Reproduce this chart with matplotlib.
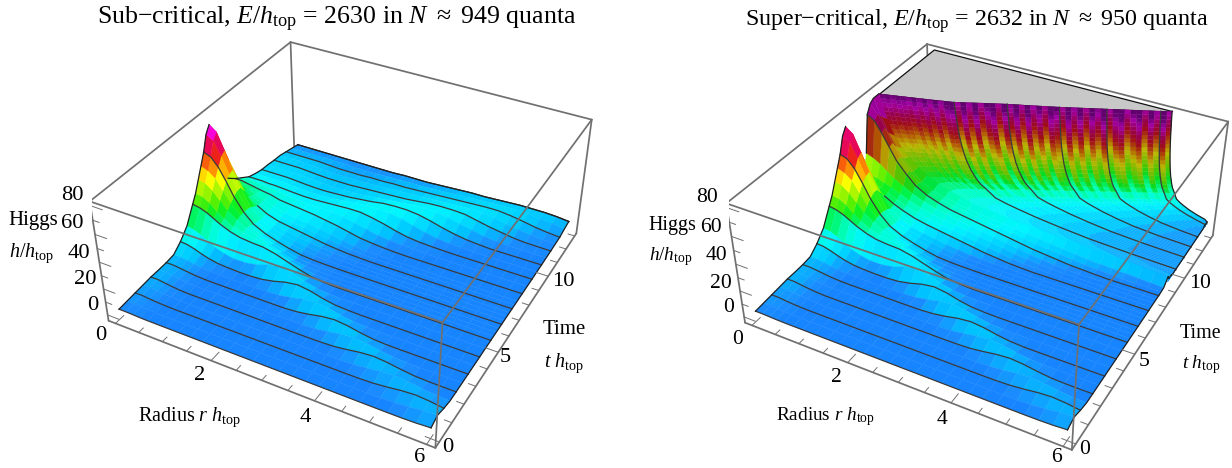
#!/usr/bin/env python3
"""Two Higgs collapse surfaces h(r, t): sub-critical and super-critical."""
import numpy as np
import matplotlib
matplotlib.use("Agg")
import matplotlib.pyplot as plt
from matplotlib.colors import LinearSegmentedColormap
from mpl_toolkits.mplot3d.art3d import Poly3DCollection

plt.rcParams["font.family"] = ["Liberation Serif", "DejaVu Serif"]
plt.rcParams["mathtext.fontset"] = "custom"
plt.rcParams["mathtext.rm"] = "Liberation Serif"
plt.rcParams["mathtext.it"] = "Liberation Serif:italic"
plt.rcParams["mathtext.bf"] = "Liberation Serif:bold"

# heights, rows = time, columns = radius
RADIUS = [0, .15, .3, .45, .6, .8, 1, 1.25, 1.5, 1.75, 2, 2.25, 2.5, 2.75, 3, 3.25, 3.5, 3.75,
          4, 4.25, 4.5, 4.75, 5, 5.25, 5.5, 5.75, 6]
TIME_EARLY = [0, .5, 1, 1.5, 2, 2.5, 3, 3.5, 4, 4.5, 5, 5.25, 5.5, 5.75, 6, 6.25, 6.5, 6.75]
H_EARLY = [
    [3, 3, 2.8, 2.6, 2.5, 2.5, 2.5] + [2.5] * 16 + [2.5, 2.6, 2.9, 3.6],
    [3.5, 3.5, 3, 2.8, 2.6, 2.5, 2.5] + [2.5] * 15 + [2.6, 3, 4, 5.3, 6],
    [4, 4, 3.4, 3, 2.7, 2.5, 2.5] + [2.5] * 13 + [2.6, 3, 4, 5.3, 6, 5.3, 4],
    [4.5, 4.5, 3.8, 3.2, 2.8, 2.5, 2.5] + [2.5] * 11 + [2.6, 3, 4, 5.3, 6, 5.3, 4, 3, 2.6],
    [5, 5, 4.2, 3.5, 2.9, 2.5, 2.5] + [2.5] * 9 + [2.6, 3, 4.2, 5.7, 6.5, 5.7, 4.2, 3, 2.6] + [2.5] * 2,
    [5, 5, 4.4, 3.7, 3, 2.6, 2.5] + [2.5] * 7 + [2.6, 3.1, 4.4, 6.1, 7, 6.1, 4.4, 3.1, 2.6] + [2.5] * 4,
    [5.2, 5.2, 4.6, 3.9, 3.2, 2.7, 2.5] + [2.5] * 5 + [2.6, 3.2, 4.6, 6.5, 7.5, 6.5, 4.6, 3.2, 2.6] + [2.5] * 6,
    [6, 6, 5.2, 4.2, 3.4, 2.8, 2.5] + [2.5] * 3 + [2.7, 3.3, 4.8, 6.9, 8, 6.9, 4.8, 3.3, 2.7] + [2.5] * 8,
    [11, 10.5, 9, 7, 5.3, 3.8, 3.2, 2.8, 2.8, 3.4, 5.2, 7.7, 9, 7.7, 5.2, 3.4, 2.8] + [2.5] * 10,
    [18, 17, 14.5, 11.5, 8.5, 6, 4.5, 4.5, 6, 9.3, 11, 9.3, 6, 3.7, 2.8] + [2.5] * 12,
    [30, 29, 27, 24, 21, 18, 16, 15, 14.5, 12.5, 9.5, 6.5, 4, 3] + [2.5] * 13,
    [36, 35, 32, 27, 23, 19, 17, 15.5, 13.5, 10.5, 7, 4.5, 3.2, 2.7] + [2.5] * 13,
    [44, 43, 39, 33, 27, 22, 18, 14.5, 11, 8, 5, 3.5, 2.8, 2.6] + [2.5] * 13,
    [52, 50, 46, 38, 30, 23, 17, 12.5, 9, 6.5, 4.2, 3.2, 2.7, 2.6] + [2.5] * 13,
    [60, 58, 52, 43, 33, 23, 16, 11.5, 8.5, 6, 4, 3.2, 2.8, 2.6] + [2.5] * 13,
    [71, 68, 58, 46, 35, 23, 15, 10.5, 8, 6, 4.5, 3.5, 3, 2.7] + [2.5] * 13,
    [76, 72, 60, 47, 35, 22, 14.5, 10.5, 8.2, 6.5, 5, 4, 3.2, 2.8] + [2.5] * 13,
    [62, 59, 50, 40, 30, 20, 14, 10.5, 8.5, 7, 5.5, 4.5, 3.5, 3] + [2.5] * 13,
]
TIME_SUB = [7, 7.25, 7.5, 8, 8.5, 9, 9.5, 10, 10.5, 11, 11.5, 12, 12.5, 13]
H_SUB = [
    [38, 36, 32, 27, 23, 18, 14, 11, 9.5, 8, 6.5, 5, 4, 3.2, 2.8] + [2.5] * 12,
    [30, 29, 27, 24, 21, 18, 14.5, 11.5, 10, 9, 7.5, 6, 4.5, 3.5, 3] + [2.5] * 12,
    [26, 25, 24, 22, 20, 17.5, 15, 12.5, 11, 10, 8.5, 7, 5.5, 4, 3.2, 2.7] + [2.5] * 11,
    [21, 21, 20, 19, 18, 17, 15, 14, 13, 12, 10.5, 9, 7, 5, 4, 3.2, 2.7] + [2.5] * 10,
    [17, 17, 16.5, 16, 15.5, 15, 14, 13, 12.5, 12, 12, 11, 9, 7, 5, 4, 3.3, 3, 2.7] + [2.5] * 8,
    [13, 13, 13, 12.5, 12.5, 12, 11.5, 11, 11, 11.5, 12, 12.5, 12.5, 11, 9, 6.5, 4.5, 3.5, 3, 2.7] + [2.5] * 7,
    [11, 11, 11, 11, 11, 10.5, 10, 9.5, 9.5, 10, 11, 12, 13, 13, 12.5, 11, 8.5, 6, 4.2, 3.2, 3] + [2.6] * 6,
    [9.5, 9.5, 9.5, 9.5, 9.5, 9, 8.5, 8, 8, 8.5, 9, 10, 11, 12.5, 13, 13, 12, 10, 7.5, 5.5, 4, 3.2] + [2.6] * 5,
    [9, 9, 9, 9, 8.5, 8.5, 8, 7.5, 7, 7, 7.5, 8, 9, 10, 11, 12, 12.5, 12, 10.5, 8.5, 6.5, 4.5, 3.5, 3] + [2.7] * 3,
    [8, 8, 8, 8, 8, 7.5, 7, 6.5, 6.5, 6.5, 7, 7.5, 8, 8.5, 9, 10, 11, 11.5, 11.5, 11, 9, 7, 5.5, 4, 3.2, 3, 2.8],
    [7.5, 7.5, 7.5, 7.5, 7, 7, 6.5, 6, 6, 6, 6, 6.5, 7, 7.5, 8, 8.5, 9, 9.5, 10, 10.5, 10, 9, 7, 5.5, 4.2, 3.4, 3],
    [6, 6, 6, 6, 6, 6, 5.5, 5, 5, 5, 5.5, 5.5, 6, 6, 6.5, 7, 7.5, 8, 8.5, 9, 9.5, 9.5, 8.5, 7, 5.2, 4, 3.2],
    [4.5] * 8 + [4, 4, 4, 4.5, 4.5, 5, 5, 5.5, 6, 6.5, 7, 7.5, 8, 8.5, 8.5, 8, 7, 6, 4.5],
    [3] * 12 + [3.5, 3.5, 3.5, 4, 4.5, 5, 5.5, 5.5, 6, 6.5, 7, 7, 7, 6.5, 5.5],
]
TIME_SUPER = [7, 7.25, 7.5, 7.75, 8, 8.25, 8.5, 8.9]
H_SUPER = [
    [38, 36, 33, 29, 25, 21, 18, 15, 13, 11.5, 10, 8.5, 7, 5.5, 4.5, 3.5, 3] + [2.6] * 10,
    [30, 30, 29, 27, 25, 22, 19, 16.5, 14.5, 13, 11.5, 10, 8.5, 7, 5.5, 4.5, 3.5, 3] + [2.6] * 9,
    [32, 32, 31, 29, 27, 24, 21, 18, 16, 14.5, 13, 11.5, 10, 8.5, 7, 5.5, 4.5, 3.5, 3] + [2.6] * 8,
    [45, 43, 40, 36, 32, 28, 24, 20.5, 18, 16, 14.5, 13, 11.5, 10, 8.5, 7, 5.5, 4.5, 3.5, 3] + [2.6] * 7,
    [72, 69, 61, 52, 43, 35, 28, 23, 20, 17.5, 16, 14.5, 13, 11.5, 10, 8.5, 7, 6, 5, 4, 3.5, 3] + [2.6] * 5,
    [78, 72, 63, 53, 44, 35, 28, 23, 20, 18, 16.5, 15, 13.5, 12.5, 11, 10, 8.5, 7.5, 6.5, 5.5, 4.5, 4, 3.5, 3] + [2.7] * 3,
    [80, 68, 57, 48, 41, 32, 26, 22, 19.5, 17.5, 16, 15, 14, 13, 12, 11, 10, 9, 8, 7, 6, 5.5, 5, 4.5, 4, 3.5, 3],
    [80, 63, 51.5, 43.5, 37.5, 32, 27.5, 23.5, 21, 18.5, 16, 15.2, 14.3, 13.3, 12.9, 12.3, 11.7, 11.1, 10.5, 10.1, 9.7, 9.2, 8.7, 8.4, 8.1, 7.7, 7.3],
]

# super-critical wall: where the clipped plateau ends, and the fall-off in front of it
WALL_R = [0, .1, .2, .3, .4, .5, .6, .7, .8, .9, 1, 1.1, 1.2, 1.3, 1.4, 1.5, 1.6, 1.7, 1.8, 1.9,
          2, 2.1, 2.2, 2.3, 2.4, 2.5, 2.6, 2.7, 2.8, 2.9, 3, 3.1, 3.2, 3.3, 3.4, 3.5, 3.6, 3.7, 3.8, 3.9,
          4, 4.1, 4.2, 4.3, 4.4, 4.5, 4.6, 4.7, 4.8, 4.9, 5, 5.08]
WALL_T = [8.9, 8.96, 9.02, 9.08, 9.14, 9.2, 9.26, 9.32, 9.38, 9.44,
          9.5, 9.57, 9.63, 9.69, 9.76, 9.86, 9.95, 10.05, 10.15, 10.25,
          10.34, 10.44, 10.53, 10.63, 10.71, 10.8, 10.88, 10.97, 11.05, 11.14,
          11.22, 11.31, 11.4, 11.49, 11.59, 11.68, 11.78, 11.87, 11.96, 12.06,
          12.15, 12.25, 12.34, 12.44, 12.53, 12.63, 12.72, 12.82, 12.91, 13.01, 13.1, 13.22]
WALL_WIDTH = [2.8, 2.6, 2.4, 2.25, 2.1, 1.95, 1.85, 1.75, 1.65, 1.55,
              1.5, 1.42, 1.35, 1.3, 1.25, 1.2, 1.15, 1.1, 1.08, 1.05,
              1.03, 1, 1, .97, .94, .91, .88, .85, .82, .79,
              .76, .73, .71, .69, .67, .65, .63, .61, .59, .57,
              .55, .53, .51, .49, .47, .45, .43, .42, .41, .4, .39, .38]
WALL_STREAK = [0, .1, -.1, .1, 0, -.2, .2, -.2, .3, -.3,
               .4, -.4, .5, .6, -.7, .8, -.5, .9, -.8, .3,
               .9, -.9, .6, -.4, .8, -.8, .9, -.6, .4, -.9,
               .7, .2, -.8, .9, -.5, .7, -.9, .6, -.3, .9,
               -.8, .5, .9, -.7, .2, .8, -.9, .6, -.5, .9, -.6, .4]
FALL_D = [0, .008, .016, .025, .035, .045, .055, .068, .08, .095, .11, .13, .15, .175, .2, .235, .27,
          .32, .37, .44, .55, .7, .9, 1.1, 1.4, 1.8, 2.3, 3, 4, 5.5]
FALL_H = [80, 77, 74, 71, 68, 65, 62, 59, 56, 53, 50, 47, 44, 41, 38, 35, 32,
          29, 26, 23, 20, 15.5, 13.5, 12, 10, 8, 6, 4.5, 3.5, 3]
WALL_LINE_ROWS = [14, 23, 32, 40, 49]

TITLES = [r"Sub$-$critical, $E/h_{\rm top}$ = 2630 in $N$ $\approx$ 949 quanta",
          r"Super$-$critical, $E/h_{\rm top}$ = 2632 in $N$ $\approx$ 950 quanta"]
Z_LABELS = ["80", "60", "40", "20", "0"]
R_LABELS = ["0", "2", "4", "6"]
T_LABELS = ["0", "5", "10"]

# layout, in picture pixels from the top left
FW, FH = 1232, 468
R_LIM, T_LIM, Z_LIM = (-0.15, 6.15), (-0.3, 13.2), (-4.5, 83)
LAYOUT = [
    dict(pos=(92.2, 480.1), title=(97, 19), title_size=18.6, tick_size=16.2, label_size=15,
         z=[(72, 195), (72, 223), (79, 253), (85, 279), (93, 305)],
         r=[(101, 336), (200, 375), (305, 418), (420, 458)],
         t=[(448, 447), (505, 358), (563, 281)],
         higgs=(33, 220), h=(32, 253), time=(564, 330), th=(564, 363), radius=(190, 417)),
    dict(pos=(728.7, 482.1), title=(745, 21), title_size=17.25, tick_size=15.6, label_size=14.4,
         z=[(707, 197), (711, 227), (716, 255), (721, 283), (729, 307)],
         r=[(738, 339), (836, 378), (942, 419), (1057, 458)],
         t=[(1085, 450), (1144, 361), (1200, 284)],
         higgs=(672, 225), h=(671, 257), time=(1201, 334), th=(1201, 365), radius=(825, 417)),
]
SIDE = 509.0

BOX, LINE = "#707070", "#3a3a3a"
CMAP = LinearSegmentedColormap.from_list("higgs", [
    (0 / 85, (0.03, 0.42, 1)), (3 / 85, (0.10, 0.55, 1)), (6 / 85, (0, 0.76, 1)), (12 / 85, (0, 0.96, 1)),
    (18 / 85, (0, 1, 0.78)), (26 / 85, (0, 0.94, 0.16)), (33 / 85, (0.35, 0.94, 0)), (45 / 85, (1, 1, 0)),
    (52 / 85, (1, 0.55, 0)), (60 / 85, (0.92, 0.08, 0.12)), (67 / 85, (0.9, 0, 0.47)), (74 / 85, (1, 0, 1)),
    (80 / 85, (0.62, 0, 0.7)), (1, (0.62, 0, 0.7))])


def face_mean(a):
    return (a[:-1, :-1] + a[1:, :-1] + a[:-1, 1:] + a[1:, 1:]) / 4


def shade(v, dimmed=False):
    rgba = CMAP(np.clip(v, 0, 85) / 85)
    if dimmed:
        rgba[..., :3] *= np.interp(v, [20, 40, 80], [1, .74, .62])[..., None]
    return rgba


def surface(ax, x, y, z, colors, zorder):
    ax.plot_surface(x, y, z, facecolors=colors, rstride=1, cstride=1, shade=False,
                    linewidth=0.25, antialiased=True, zorder=zorder)


def box(ax):
    (r0, r1), (t0, t1), (z0, z1) = R_LIM, T_LIM, Z_LIM
    kw = dict(color=BOX, lw=1.25, solid_capstyle="round")
    for p, q in [((r0, t1, z0), (r0, t1, z1)), ((r1, t1, z0), (r1, t1, z1)),
                 ((r0, t0, z1), (r0, t1, z1)), ((r0, t1, z1), (r1, t1, z1)),
                 ((r0, t0, z0), (r0, t0, z1))]:
        ax.plot(*zip(p, q), zorder=1, **kw)
    for p, q in [((r0, t0, z1), (r1, t0, z1)), ((r1, t0, z1), (r1, t1, z1)),
                 ((r1, t0, z0), (r1, t0, z1)), ((r0, t0, z0), (r1, t0, z0)),
                 ((r1, t0, z0), (r1, t1, z0))]:
        ax.plot(*zip(p, q), zorder=9, **kw)
    tick = dict(color=BOX, lw=0.7, zorder=9)
    for r in np.arange(0, 6.01, .5):
        ax.plot([r, r], [t0, t0 + (.5 if r % 2 == 0 else .28)], [z0, z0], **tick)
    for t in range(0, 14):
        ax.plot([r1, r1 - (.24 if t % 5 == 0 else .13)], [t, t], [z0, z0], **tick)
    for z in range(0, 81, 10):
        ax.plot([r0, r0 + (.24 if z % 20 == 0 else .13)], [t0, t0], [z, z], **tick)


def lines_on(ax, x, t, h, start=0):
    ax.plot(x[start:], np.full(len(x) - start, t), h[start:], color=LINE, lw=0.9, zorder=7)


def texts(fig, n, lay):
    def put(s, xy, size, **kw):
        fig.text(xy[0] / FW, 1 - xy[1] / FH, s, fontsize=size, ha=kw.get("ha", "center"), va="center")
    tick, label = lay["tick_size"], lay["label_size"]
    put(TITLES[n], lay["title"], lay["title_size"], ha="left")
    for s, xy in zip(Z_LABELS, lay["z"]):
        put(s, xy, tick)
    for s, xy in zip(R_LABELS, lay["r"]):
        put(s, xy, tick)
    for s, xy in zip(T_LABELS, lay["t"]):
        put(s, xy, tick)
    put("Higgs", lay["higgs"], label)
    put(r"$h/h_{\rm top}$", lay["h"], label - .5)
    put("Time", lay["time"], label)
    put(r"$t\ h_{\rm top}$", lay["th"], label - .5)
    put(r"Radius $r\ h_{\rm top}$", lay["radius"], label - .5)


def make_axes(fig, lay):
    left, bottom = lay["pos"]
    ax = fig.add_axes([left / FW, (FH - bottom) / FH, SIDE / FW, SIDE / FH], projection="3d")
    ax.computed_zorder = False
    ax.patch.set_alpha(0)
    ax.set_axis_off()
    return ax


def finish(ax):
    ax.set_xlim(*R_LIM)
    ax.set_ylim(*T_LIM)
    ax.set_zlim(*Z_LIM)
    ax.set_box_aspect((0.9949, 1, 0.4012))
    ax.view_init(35.73, -61.545)
    ax.set_proj_type("persp", focal_length=0.4337)


def panel_sub(fig, lay):
    ax = make_axes(fig, lay)
    box(ax)
    r = np.array(RADIUS, float)
    t = np.array(TIME_EARLY + TIME_SUB, float)
    h = np.array(H_EARLY + H_SUB, float)
    rr, tt = np.meshgrid(r, t)
    surface(ax, rr, tt, h, shade(face_mean(h)), 4)
    for i, ti in enumerate(t):
        if ti == int(ti):
            lines_on(ax, r, ti, h[i], start=5 if ti == 7 else 0)
    for m in (t <= 6.5, t >= 7.5):
        ax.plot(np.zeros(m.sum()), t[m], h[m, 0], color="#202020", lw=0.9, zorder=7)
    ax.plot(np.full(len(t), 6.0), t, h[:, -1], color="#202020", lw=0.9, zorder=7)
    ax.plot(r, np.full(len(r), 13.0), h[-1], color="#202020", lw=0.9, zorder=7)
    finish(ax)


def panel_super(fig, lay):
    ax = make_axes(fig, lay)
    box(ax)
    r = np.array(RADIUS, float)
    t = np.array(TIME_EARLY + TIME_SUPER, float)
    h = np.array(H_EARLY + H_SUPER, float)
    rr, tt = np.meshgrid(r, t)
    # plateau where the field runs off the plot range
    top = list(zip(WALL_R, WALL_T, [80] * len(WALL_R))) + [(0, 13.22, 80)]
    ax.add_collection3d(Poly3DCollection([top], facecolors="#c8c8c8", edgecolors="#111111",
                                         linewidths=0.9, zorder=2))
    # wall rows follow the edge of the plateau
    width = np.array(WALL_WIDTH)[:, None]
    wall_r = np.minimum(np.array(WALL_R)[:, None] + width * np.array(FALL_D)[None, :], 6.0)
    wall_t = np.repeat(np.array(WALL_T)[:, None], len(FALL_D), axis=1)
    wall_h = np.repeat(np.array(FALL_H, float)[None, :], len(WALL_R), axis=0)
    v = face_mean(wall_h)
    streak = np.array(WALL_STREAK)[:-1, None] * np.interp(v, [8, 18, 30, 80], [0, 2, 7, 7])
    surface(ax, wall_r, wall_t, wall_h, shade(v + streak, dimmed=True), 3)
    # the earlier part stands in front of the wall
    v = face_mean(h)
    colors = shade(np.minimum(v, 66))
    rows = t[:-1] >= 7.75
    colors[rows] = shade(v[rows], dimmed=True)
    surface(ax, rr, tt, h, colors, 4)
    for i, ti in enumerate(t):
        if ti == int(ti):
            lines_on(ax, r, ti, h[i], start=4 if ti == 7 else 0)
    for i in WALL_LINE_ROWS:
        lines_on(ax, wall_r[i], WALL_T[i], wall_h[i])
    for m in (t <= 6.5, t >= 7.75):
        ax.plot(np.zeros(m.sum()), t[m], h[m, 0], color="#202020", lw=0.9, zorder=7)
    ax.plot(np.full(len(t), 6.0), t, h[:, -1], color="#202020", lw=0.9, zorder=7)
    end = np.argmax(wall_r >= 6.0, axis=1)
    ax.plot(np.full(len(end), 6.0), WALL_T, wall_h[np.arange(len(end)), end], color="#202020", lw=0.9, zorder=7)
    ax.plot(wall_r[-1], wall_t[-1], wall_h[-1], color="#202020", lw=0.9, zorder=7)
    finish(ax)


def main():
    fig = plt.figure(figsize=(FW / 100, FH / 100), dpi=100, facecolor="white")
    panel_sub(fig, LAYOUT[0])
    panel_super(fig, LAYOUT[1])
    for n, lay in enumerate(LAYOUT):
        texts(fig, n, lay)
    fig.savefig("out.png", dpi=100, facecolor="white")


if __name__ == "__main__":
    main()
